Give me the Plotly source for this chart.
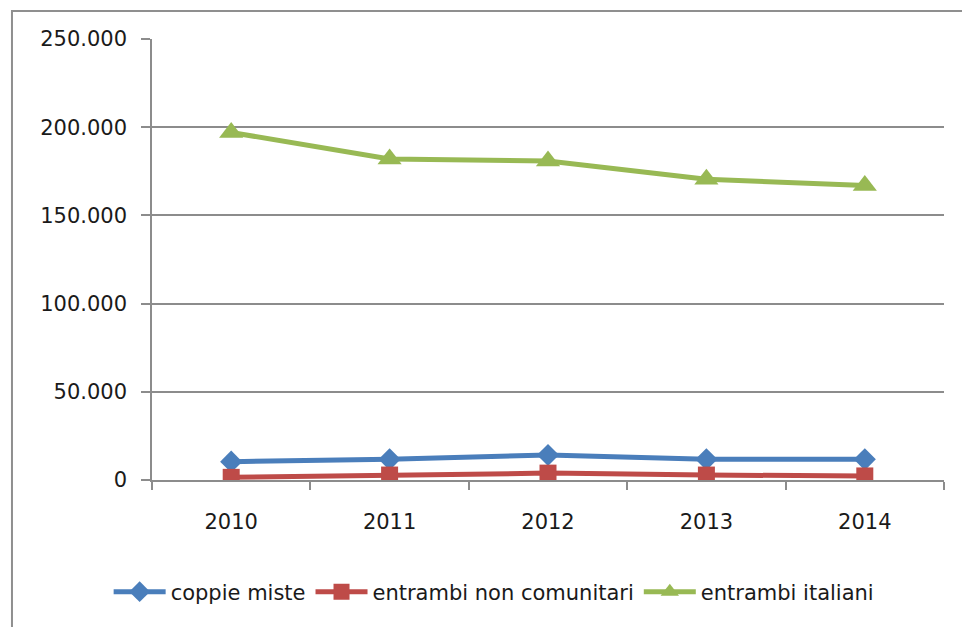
import plotly.graph_objects as go

years = ["2010", "2011", "2012", "2013", "2014"]
coppie_miste = [10400, 11700, 14200, 11700, 11700]
non_comunitari = [1500, 2800, 3900, 2800, 2300]
italiani = [197000, 182000, 180800, 170500, 167000]

y_tickvals = [0, 50000, 100000, 150000, 200000, 250000]
y_ticktext = ["0", "50.000", "100.000", "150.000", "200.000", "250.000"]

FONT = "DejaVu Sans"
GRID = "#8c8c8c"
TXT = "#1a1a1a"

fig = go.Figure()
fig.add_trace(go.Scatter(
    x=years, y=coppie_miste, name="coppie miste", mode="lines+markers",
    line=dict(color="#4A7EBB", width=5),
    marker=dict(symbol="diamond", size=17, color="#4A7EBB"),
))
fig.add_trace(go.Scatter(
    x=years, y=non_comunitari, name="entrambi non comunitari", mode="lines+markers",
    line=dict(color="#BE4B48", width=5),
    marker=dict(symbol="square", size=17, color="#BE4B48"),
))
fig.add_trace(go.Scatter(
    x=years, y=italiani, name="entrambi italiani", mode="lines+markers",
    line=dict(color="#98B954", width=5),
    marker=dict(symbol="triangle-up", size=21, color="#98B954"),
))

fig.update_layout(
    width=962, height=627,
    margin=dict(l=152, r=18, t=39, b=147),
    paper_bgcolor="white", plot_bgcolor="white",
    font=dict(family=FONT, size=21, color=TXT),
    showlegend=True,
    legend=dict(
        orientation="h", x=0.432, xanchor="center", y=-0.254, yanchor="middle",
        font=dict(family=FONT, size=21, color=TXT),
        itemwidth=52,
        bgcolor="rgba(0,0,0,0)",
    ),
    xaxis=dict(
        type="category", range=[-0.5, 4.5],
        tickson="boundaries", ticks="outside", ticklen=8, tickwidth=1.5, tickcolor=GRID,
        showline=True, linecolor=GRID, linewidth=1.5,
        showgrid=False, zeroline=False,
        tickfont=dict(family=FONT, size=21, color=TXT),
        ticklabelstandoff=22,
    ),
    yaxis=dict(
        range=[0, 250000], tickvals=y_tickvals, ticktext=y_ticktext,
        ticks="outside", ticklen=9, tickwidth=1.5, tickcolor=GRID,
        showline=True, linecolor=GRID, linewidth=1.5,
        showgrid=True, gridcolor=GRID, gridwidth=1.5,
        zeroline=False,
        tickfont=dict(family=FONT, size=21, color=TXT),
        ticklabelstandoff=10,
    ),
    shapes=[dict(
        type="rect", xref="paper", yref="paper",
        x0=-0.1768, x1=1.06, y0=-0.40, y1=1.0635,
        line=dict(color="#8f8f8f", width=2), fillcolor="rgba(0,0,0,0)",
        layer="below",
    )],
)

fig.write_html("out.html")
